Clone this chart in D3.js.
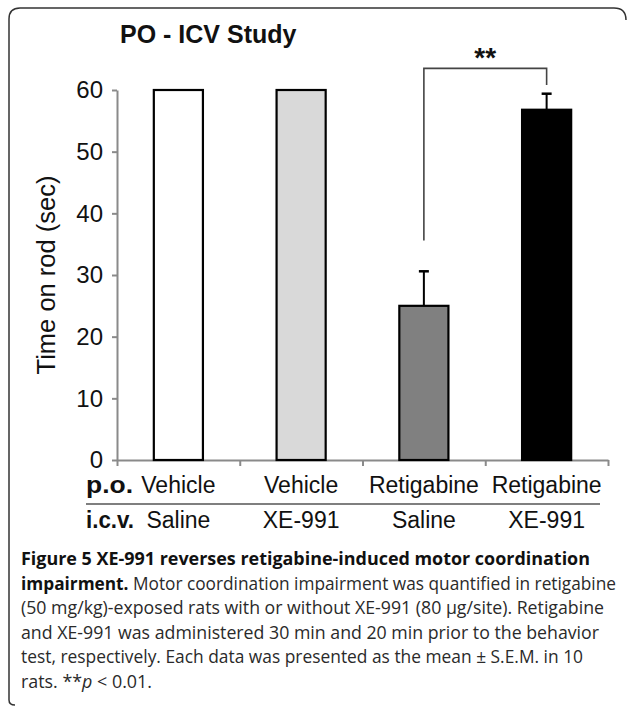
<!DOCTYPE html>
<html>
<head>
<meta charset="utf-8">
<script src="https://cdn.jsdelivr.net/npm/d3@7"></script>
<style>
  html, body { margin: 0; padding: 0; background: #fff; }
  svg { display: block; }
</style>
</head>
<body>
<svg id="chart" width="627" height="706"></svg>
<script>
// ---------------- data ----------------
const title = "PO - ICV Study";
const yLabel = "Time on rod (sec)";
const categories = ["Vehicle/Saline", "Vehicle/XE-991", "Retigabine/Saline", "Retigabine/XE-991"];
const poLabels = ["Vehicle", "Vehicle", "Retigabine", "Retigabine"];
const icvLabels = ["Saline", "XE-991", "Saline", "XE-991"];
const means = [60, 60, 25, 56.8];
const sems = [0, 0, 5.6, 2.6];
const yTicks = [0, 10, 20, 30, 40, 50, 60];
const rowNames = ["p.o.", "i.c.v."];
const sigFrom = 2, sigTo = 3, sigLabel = "**";
const captionLines = [
  [{t: "Figure 5 XE-991 reverses retigabine-induced motor coordination", b: true}],
  [{t: "impairment.", b: true}, {t: " Motor coordination impairment was quantified in retigabine"}],
  [{t: "(50 mg/kg)-exposed rats with or without XE-991 (80 \u03bcg/site). Retigabine"}],
  [{t: "and XE-991 was administered 30 min and 20 min prior to the behavior"}],
  [{t: "test, respectively. Each data was presented as the mean \u00b1 S.E.M. in 10"}],
  [{t: "rats. **"}, {t: "p", i: true}, {t: " < 0.01."}]
];

// ---------------- styles / layout ----------------
const fills = ["#ffffff", "#d9d9d9", "#808080", "#000000"];
const axisColor = "#8a8a8a";
const svg = d3.select("#chart");
const font = "Arial, 'Liberation Sans', sans-serif";

// frame
svg.append("path")
  .attr("d", "M9,700 L9,19 Q9,8 20,8 L614,8 Q626,8 626,20 M9,700 Q9,705 15,705")
  .attr("fill", "none").attr("stroke", "#333").attr("stroke-width", 1.5);

const plotLeft = 117, plotRight = 608, plotTop = 90, plotBottom = 460;

const x = d3.scaleBand().domain(categories).range([plotLeft, plotRight])
  .paddingInner(0.6).paddingOuter(0.3);
const xEdge = d3.scaleLinear().domain([0, categories.length]).range([plotLeft, plotRight]);
const y = d3.scaleLinear().domain([0, 60]).range([plotBottom, plotTop]);
const color = d3.scaleOrdinal().domain(categories).range(fills);

// title
svg.append("text").attr("x", 120).attr("y", 43)
  .attr("font-family", font).attr("font-weight", "bold").attr("font-size", 25)
  .attr("fill", "#111").text(title);

// y axis
const yAxis = svg.append("g").attr("transform", `translate(${plotLeft},0)`)
  .call(d3.axisLeft(y).tickValues(yTicks).tickSize(5).tickSizeOuter(0).tickPadding(9));
yAxis.select(".domain").attr("stroke", axisColor).attr("stroke-width", 2);
yAxis.selectAll(".tick line").attr("stroke", axisColor).attr("stroke-width", 2);
yAxis.selectAll(".tick text").attr("font-family", font).attr("font-size", 24).attr("fill", "#111");

// y label
svg.append("text")
  .attr("transform", `translate(55,${(plotTop + plotBottom) / 2}) rotate(-90)`)
  .attr("text-anchor", "middle")
  .attr("font-family", font).attr("font-size", 25.5).attr("fill", "#111")
  .text(yLabel);

// x axis (category boundary ticks)
const xAxis = svg.append("g").attr("transform", `translate(0,${plotBottom})`)
  .call(d3.axisBottom(xEdge).tickValues(d3.range(categories.length + 1)).tickFormat("").tickSize(6).tickSizeOuter(0));
xAxis.select(".domain").attr("stroke", axisColor).attr("stroke-width", 2);
xAxis.selectAll(".tick line").attr("stroke", axisColor).attr("stroke-width", 2);

// bars
const data = categories.map((c, i) => ({c, m: means[i], s: sems[i], po: poLabels[i], icv: icvLabels[i]}));
svg.append("g").selectAll("rect").data(data).join("rect")
  .attr("x", d => x(d.c)).attr("width", x.bandwidth())
  .attr("y", d => y(d.m)).attr("height", d => y(0) - y(d.m))
  .attr("fill", d => color(d.c)).attr("stroke", "#000").attr("stroke-width", 2.2);

// error bars (upper only)
const eb = svg.append("g").selectAll("g").data(data.filter(d => d.s > 0)).join("g");
eb.append("line")
  .attr("x1", d => x(d.c) + x.bandwidth() / 2).attr("x2", d => x(d.c) + x.bandwidth() / 2)
  .attr("y1", d => y(d.m)).attr("y2", d => y(d.m + d.s))
  .attr("stroke", "#000").attr("stroke-width", 2);
eb.append("line")
  .attr("x1", d => x(d.c) + x.bandwidth() / 2 - 5).attr("x2", d => x(d.c) + x.bandwidth() / 2 + 5)
  .attr("y1", d => y(d.m + d.s)).attr("y2", d => y(d.m + d.s))
  .attr("stroke", "#000").attr("stroke-width", 2.5);

// significance bracket
const a = data[sigFrom], b = data[sigTo];
const xa = x(a.c) + x.bandwidth() / 2, xb = x(b.c) + x.bandwidth() / 2;
const yTop = y(b.m + b.s + 4.1);
svg.append("path")
  .attr("d", `M${xa},${y(a.m + a.s + 5)} L${xa},${yTop} L${xb},${yTop} L${xb},${y(b.m + b.s + 1.4)}`)
  .attr("fill", "none").attr("stroke", "#444").attr("stroke-width", 1.6);
svg.append("text").attr("x", (xa + xb) / 2).attr("y", yTop - 1)
  .attr("text-anchor", "middle").attr("font-family", font).attr("font-weight", "bold")
  .attr("font-size", 28).attr("fill", "#111").text(sigLabel);

// category label rows
const rowY = [493, 528];
const rowW = [47, 48];
rowNames.forEach((n, i) => {
  svg.append("text").attr("x", 86).attr("y", rowY[i]).attr("font-family", font)
    .attr("font-weight", "bold").attr("font-size", 23).attr("fill", "#111")
    .attr("textLength", rowW[i]).attr("lengthAdjust", "spacingAndGlyphs").text(n);
});
svg.append("g").selectAll("text").data(data).join("text")
  .attr("x", d => x(d.c) + x.bandwidth() / 2).attr("y", rowY[0])
  .attr("text-anchor", "middle").attr("font-family", font).attr("font-size", 23).attr("fill", "#111")
  .text(d => d.po);
svg.append("g").selectAll("text").data(data).join("text")
  .attr("x", d => x(d.c) + x.bandwidth() / 2).attr("y", rowY[1])
  .attr("text-anchor", "middle").attr("font-family", font).attr("font-size", 23).attr("fill", "#111")
  .text(d => d.icv);
svg.append("line").attr("x1", 86).attr("x2", 600).attr("y1", 504).attr("y2", 504)
  .attr("stroke", "#555").attr("stroke-width", 1.5);

// caption
const capWidths = [569, 595, 583, 578, 562, 131];
const cap = svg.append("g");
captionLines.forEach((segs, i) => {
  const t = cap.append("text").attr("x", 21).attr("y", 565 + i * 24.6)
    .attr("font-family", "'Open Sans', 'Noto Sans', sans-serif").attr("font-size", 17.5)
    .attr("fill", "#2a2a2a");
  segs.forEach(s => {
    t.append("tspan").attr("font-weight", s.b ? "bold" : "normal")
      .attr("font-style", s.i ? "italic" : "normal")
      .attr("fill", s.b ? "#111" : "#2a2a2a").text(s.t);
  });
  t.attr("textLength", capWidths[i]).attr("lengthAdjust", "spacingAndGlyphs");
});
</script>
</body>
</html>
